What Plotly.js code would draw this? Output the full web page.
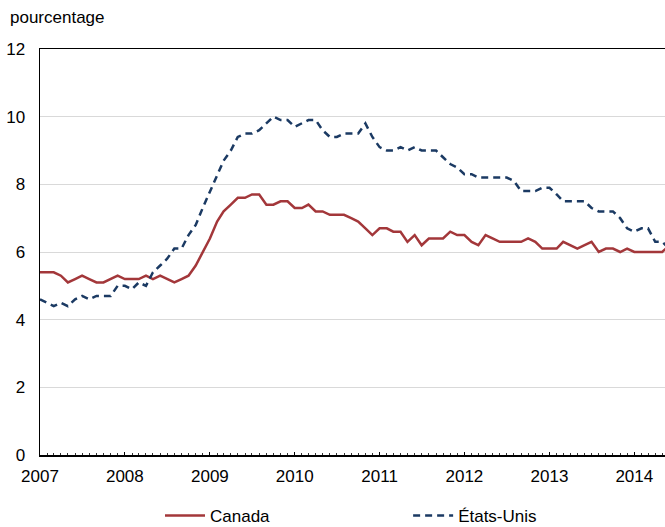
<!DOCTYPE html>
<html>
<head>
<meta charset="utf-8">
<script src="https://cdn.plot.ly/plotly-3.0.1.min.js"></script>
<style>html,body{margin:0;padding:0;background:#fff;}#chart{width:665px;height:527px;}</style>
</head>
<body>
<div id="chart"></div>
<script>
// Monthly data, January 2007 to June 2014
const startMonth = '2007-01-01';
const canada = [
  5.4,5.4,5.4,5.3,5.1,5.2,5.3,5.2,5.1,5.1,5.2,5.3,
  5.2,5.2,5.2,5.3,5.2,5.3,5.2,5.1,5.2,5.3,5.6,6.0,
  6.4,6.9,7.2,7.4,7.6,7.6,7.7,7.7,7.4,7.4,7.5,7.5,
  7.3,7.3,7.4,7.2,7.2,7.1,7.1,7.1,7.0,6.9,6.7,6.5,
  6.7,6.7,6.6,6.6,6.3,6.5,6.2,6.4,6.4,6.4,6.6,6.5,
  6.5,6.3,6.2,6.5,6.4,6.3,6.3,6.3,6.3,6.4,6.3,6.1,
  6.1,6.1,6.3,6.2,6.1,6.2,6.3,6.0,6.1,6.1,6.0,6.1,
  6.0,6.0,6.0,6.0,6.0,6.2
];
const etatsUnis = [
  4.6,4.5,4.4,4.5,4.4,4.6,4.7,4.6,4.7,4.7,4.7,5.0,
  5.0,4.9,5.1,5.0,5.4,5.6,5.8,6.1,6.1,6.5,6.8,7.3,
  7.8,8.3,8.7,9.0,9.4,9.5,9.5,9.6,9.8,10.0,9.9,9.9,
  9.7,9.8,9.9,9.9,9.6,9.4,9.4,9.5,9.5,9.5,9.8,9.4,
  9.1,9.0,9.0,9.1,9.0,9.1,9.0,9.0,9.0,8.8,8.6,8.5,
  8.3,8.3,8.2,8.2,8.2,8.2,8.2,8.1,7.8,7.8,7.8,7.9,
  7.9,7.7,7.5,7.5,7.5,7.5,7.3,7.2,7.2,7.2,7.0,6.7,
  6.6,6.7,6.7,6.3,6.3,6.1
];
const seriesNames = ['Canada', 'États-Unis'];
const yTickVals = [0,2,4,6,8,10,12];
const yAxisLabel = 'pourcentage';

function monthDates(n) {
  const out = [];
  const y0 = parseInt(startMonth.slice(0,4),10);
  for (let i = 0; i < n; i++) {
    const y = y0 + Math.floor(i/12);
    const m = (i % 12) + 1;
    out.push(y + '-' + (m < 10 ? '0' + m : m) + '-01');
  }
  return out;
}

const FONT = '"Liberation Sans Narrow", "Arial Narrow", "Liberation Sans", Arial, sans-serif';

const traces = [
  {x: monthDates(canada.length), y: canada, name: seriesNames[0], type: 'scatter', mode: 'lines',
   legend: 'legend', line: {color: '#a3373a', width: 2.5}},
  {x: monthDates(etatsUnis.length), y: etatsUnis, name: seriesNames[1], type: 'scatter', mode: 'lines',
   legend: 'legend2', line: {color: '#1b3a63', width: 2.5, dash: '7px,5px'}}
];

const legendBase = {orientation: 'h', xanchor: 'left', y: -0.15, yanchor: 'middle',
  font: {size: 17, family: FONT}, itemwidth: 40, bgcolor: 'rgba(0,0,0,0)'};

const layout = {
  width: 665, height: 527,
  margin: {l: 40, r: 0, t: 49, b: 72, autoexpand: false},
  paper_bgcolor: '#fff', plot_bgcolor: '#fff',
  font: {family: FONT, size: 17, color: '#000'},
  showlegend: true,
  legend: Object.assign({}, legendBase, {x: 0.192}),
  legend2: Object.assign({}, legendBase, {x: 0.589}),
  xaxis: {
    type: 'date', range: ['2007-01-01', '2014-05-13'],
    tick0: '2007-01-01', dtick: 'M12', tickformat: '%Y',
    showgrid: false, zeroline: false,
    showline: true, linecolor: '#000', linewidth: 1.5, mirror: true,
    ticks: 'inside', ticklen: 3, tickcolor: '#000', tickwidth: 1,
    minor: {dtick: 'M1', ticks: 'inside', ticklen: 2.5, tickcolor: '#333', tickwidth: 1, showgrid: false},
    tickfont: {size: 17, family: FONT}, ticklabelstandoff: 5, fixedrange: true
  },
  yaxis: {
    range: [0, 12], tickvals: yTickVals, ticktext: yTickVals.map(String),
    showgrid: true, gridcolor: '#d9d9d9', gridwidth: 1, zeroline: false,
    showline: true, linecolor: '#000', linewidth: 1.5,
    ticks: '', tickfont: {size: 17, family: FONT}, ticklabelstandoff: 10, fixedrange: true
  },
  annotations: [{
    text: yAxisLabel, xref: 'paper', yref: 'paper', x: -0.0512, y: 1.0764,
    xanchor: 'left', yanchor: 'middle', showarrow: false, font: {size: 17, family: FONT}
  }]
};

Plotly.newPlot('chart', traces, layout, {displayModeBar: false, staticPlot: true});
</script>
</body>
</html>
